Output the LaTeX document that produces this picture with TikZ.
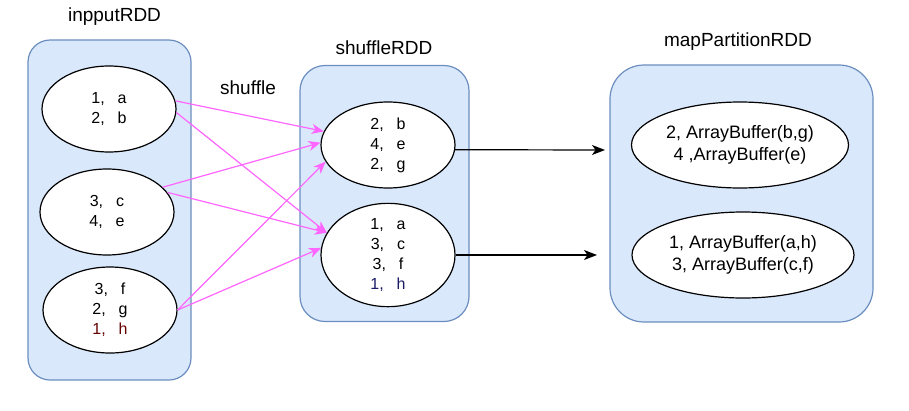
\documentclass[tikz,border=0pt]{standalone}
\usepackage{fontspec}
\setmainfont{Liberation Sans}
\usepackage{xcolor}
\usetikzlibrary{shapes.geometric, arrows.meta}

\definecolor{rddfill}{HTML}{DAE8FC}
\definecolor{rddline}{HTML}{6C8EBF}
\definecolor{shufline}{HTML}{FF66FF}
\definecolor{inkred}{HTML}{660000}
\definecolor{inknavy}{HTML}{1A1A66}

\begin{document}
\begin{tikzpicture}[x=1pt, y=-1pt,
  rdd/.style={draw=rddline, fill=rddfill, line width=1.2pt, rounded corners=#1},
  rdd/.default=22pt,
  part/.style={draw, fill=white, ellipse, line width=1.2pt, inner sep=0pt,
    minimum height=86pt, align=center, font=\fontsize{16}{20}\selectfont},
  buffer/.style={part, font=\fontsize{18}{21.5}\selectfont},
  title/.style={anchor=base, font=\fontsize{19}{23}\selectfont},
  shuf/.style={draw=shufline, line width=1.2pt, -{Stealth[length=12pt, width=10pt, inset=3.5pt]}},
  flow/.style={draw, line width=1.2pt, -{Stealth[length=13pt, width=10pt, inset=3.5pt]}}]

\useasboundingbox (0,0) rectangle (909,410);

\node[rdd=22pt, minimum width=163pt, minimum height=340pt] (inRDD) at (109.5,210) {};
\node[rdd=25pt, minimum width=169pt, minimum height=256pt] (shRDD) at (384.5,193.5) {};
\node[rdd=34pt, minimum width=263pt, minimum height=257pt] (mpRDD) at (741.5,193.5) {};

\node[title] (inTitle) at (114.5,21) {inpputRDD};
\node[title] (shTitle) at (384,54) {shuffleRDD};
\node[title] (mpTitle) at (738,46) {mapPartitionRDD};
\node[title] (shufLabel) at (248,94) {shuffle};

\node[part, minimum width=134pt] (E1) at (109,109) {1,\hspace{13pt}a\\2,\hspace{13pt}b};
\node[part, minimum width=134pt] (E2) at (107,212) {3,\hspace{13pt}c\\4,\hspace{13pt}e};
\node[part, minimum width=134pt] (E3) at (110,310) {3,\hspace{13pt}f\\2,\hspace{13pt}g\\\textcolor{inkred}{1,\hspace{13pt}h}};

\node[part, minimum width=134pt] (S1) at (388,145) {2,\hspace{13pt}b\\4,\hspace{13pt}e\\2,\hspace{13pt}g};
\node[part, minimum width=134pt] (S2) at (388,255) {1,\hspace{13pt}a\\3,\hspace{13pt}c\\3,\hspace{13pt}f\\\textcolor{inknavy}{1,\hspace{13pt}h}};

\node[buffer, minimum width=217pt] (M1) at (740,145) {2, ArrayBuffer(b,g)\\4 ,ArrayBuffer(e)};
\node[buffer, minimum width=222pt] (M2) at (743,255) {1, ArrayBuffer(a,h)\\3, ArrayBuffer(c,f)};

\draw[shuf] (E1.7) -- (S1.168);
\draw[shuf] (E1.-3) -- (S2.160);
\draw[shuf] (E2.24) -- (S1.178);
\draw[shuf] (E2.18) -- (S2.160);
\draw[shuf] (E3.east) -- (S1.195);
\draw[shuf] (E3.east) -- (S2.174);

\coordinate (T1) at (605,150);
\coordinate (T2) at (597,255);
\draw[flow] (S1.-4) -- (T1);
\draw[flow] (S2.east) -- (T2);

\end{tikzpicture}
\end{document}
